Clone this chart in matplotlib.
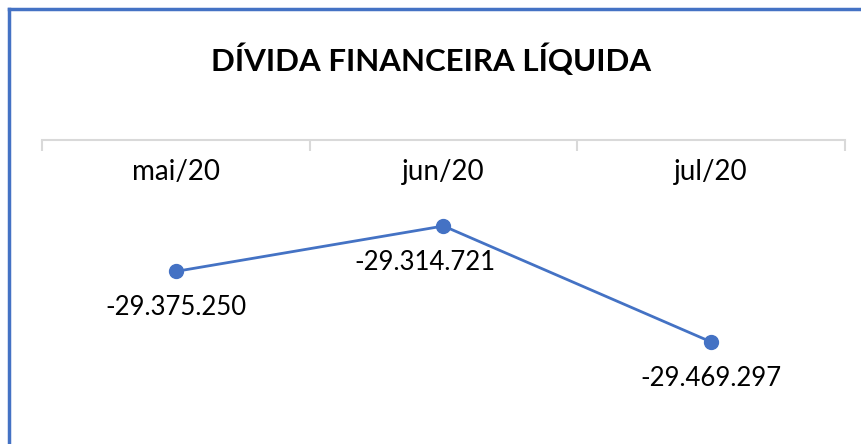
import matplotlib
matplotlib.use("Agg")
import matplotlib.pyplot as plt
from matplotlib.lines import Line2D

plt.rcParams['font.family'] = ['Lato', 'DejaVu Sans']

meses = ["mai/20", "jun/20", "jul/20"]
divida = [-29375250, -29314721, -29469297]
rotulos = ["-29.375.250", "-29.314.721", "-29.469.297"]

azul = "#4472C4"
cinza = "#D9D9D9"

fig = plt.figure(figsize=(8.62, 4.44), dpi=100)
ax = fig.add_axes([0.0487, 0.009, 0.9316, 0.6758])

x = list(range(len(meses)))
ax.plot(x, divida, color=azul, lw=2, marker="o", ms=10, zorder=3)

# data labels below the points (jun shifted left like in Excel)
offsets = [(0, -36), (-19, -36), (0, -37)]
for xi, yi, txt, off in zip(x, divida, rotulos, offsets):
    ax.annotate(txt, (xi, yi), xytext=off, textcoords="offset pixels",
                ha="center", va="center", fontsize=18.5, color="#000000")

ax.set_xlim(-0.5, len(meses) - 0.5)
ax.set_ylim(-29600000, -29200000)

for s in ["left", "right", "bottom"]:
    ax.spines[s].set_visible(False)
ax.spines["top"].set_color(cinza)
ax.spines["top"].set_linewidth(1.5)

ax.set_yticks([])
ax.set_xticks(x)
ax.set_xticklabels(meses)
ax.set_xticks([-0.5, 0.5, 1.5, 2.5], minor=True)
ax.tick_params(axis="x", which="major", bottom=False, labelbottom=False,
               top=False, labeltop=True, pad=-36, labelsize=20)
ax.tick_params(axis="x", which="minor", bottom=False, top=True,
               direction="in", length=8, width=1.5, color=cinza)

fig.text(0.5, 0.865, "DÍVIDA FINANCEIRA LÍQUIDA", ha="center", va="center",
         fontsize=22.5, fontweight="bold", color="#000000")

# chart border (only left and top visible in the crop)
fig.add_artist(Line2D([0.0105, 0.0105], [0, 0.98], transform=fig.transFigure,
                      color=azul, lw=2.5))
fig.add_artist(Line2D([0.0105, 1], [0.98, 0.98], transform=fig.transFigure,
                      color=azul, lw=2.5))

fig.savefig("out.png", dpi=100, facecolor="white")
